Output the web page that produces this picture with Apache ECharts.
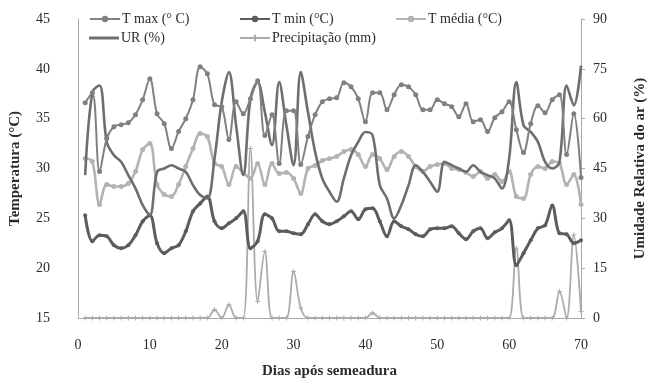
<!DOCTYPE html>
<html>
<head>
<meta charset="utf-8">
<script src="https://cdn.jsdelivr.net/npm/echarts@6/dist/echarts.min.js"></script>
<style>
  html, body { margin: 0; padding: 0; background: #fff; }
  #chart { width: 656px; height: 385px; }
</style>
</head>
<body>
<div id="chart"></div>
<script>
// Days after sowing (1..70)
const days = Array.from({ length: 70 }, (_, i) => i + 1);

const tMax = [
  36.6, 37.6, 29.7, 33.0, 34.2, 34.4, 34.6, 35.4, 36.9, 39.0,
  35.5, 34.5, 32.0, 33.7, 35.0, 36.9, 40.2, 39.5, 36.4, 36.2,
  32.9, 36.7, 35.5, 37.0, 38.8, 33.3, 35.4, 30.5, 35.8, 35.8,
  30.4, 33.2, 35.4, 36.7, 37.0, 37.1, 38.6, 38.2, 37.0, 34.7,
  37.6, 37.6, 35.9, 37.4, 38.4, 38.2, 37.4, 35.9, 35.9, 36.9,
  36.5, 36.2, 35.2, 36.5, 34.7, 34.9, 33.7, 35.1, 35.7, 36.7,
  33.9, 31.6, 34.5, 36.3, 35.6, 36.9, 37.4, 31.4, 35.5, 29.1
];

const tMin = [
  25.3, 22.7, 23.3, 23.2, 22.3, 22.0, 22.3, 23.3, 24.7, 25.3,
  22.5, 21.5, 22.0, 22.3, 23.7, 25.7, 26.5, 27.2, 24.7, 24.0,
  24.5, 25.0, 25.7, 22.0, 22.7, 25.4, 25.0, 23.7, 23.7, 23.5,
  23.4, 24.4, 25.4, 24.7, 24.4, 24.7, 25.2, 25.7, 24.9, 25.9,
  26.0, 24.7, 23.2, 24.7, 24.2, 23.9, 23.4, 23.2, 23.9, 24.0,
  24.0, 24.2, 23.5, 22.9, 23.7, 24.0, 23.0, 23.6, 24.0, 24.8,
  20.3, 21.5, 22.8, 24.0, 24.3, 26.3, 23.5, 23.4, 22.5, 22.8
];

const tMedia = [
  31.0, 30.7, 26.4, 28.4, 28.2, 28.2, 28.5, 29.7, 31.9, 32.5,
  28.4, 27.4, 27.2, 28.4, 30.2, 32.0, 33.5, 33.2, 30.5, 30.2,
  28.4, 30.2, 29.6, 29.0, 30.5, 28.4, 30.5, 29.5, 29.6, 29.0,
  27.5, 30.0, 30.3, 30.8, 31.0, 31.2, 31.7, 31.9, 31.4, 30.2,
  31.4, 31.0, 29.9, 31.2, 31.7, 31.2, 30.2, 29.7, 30.2, 30.4,
  30.5, 30.0, 29.9, 29.6, 29.2, 29.7, 29.0, 29.4, 28.7, 29.7,
  27.2, 27.0, 29.4, 30.2, 30.0, 30.7, 30.5, 28.4, 29.4, 26.4
];

const urPct = [
  43, 68, 70, 53, 49, 47, 43, 39, 34, 31,
  44, 45, 46, 45, 44, 40, 37, 36, 48, 65,
  74, 58, 43, 66, 71, 62, 52, 71, 58, 46,
  74, 62, 50, 42, 38, 35, 42, 49, 53, 56,
  55, 40, 36, 30, 34, 40, 46, 44, 41, 38,
  47, 46, 45, 44, 46, 44, 43, 42, 39, 48,
  71, 58, 56, 53, 47, 45, 47, 70, 64, 76
];

const precipMm = [
  0, 0, 0, 0, 0, 0, 0, 0, 0, 0,
  0, 0, 0, 0, 0, 0, 0, 0, 2.5, 0,
  4, 0, 0, 51, 5, 20, 0, 0, 0, 14,
  3, 0, 0, 0, 0, 0, 0, 0, 0, 0,
  1.5, 0, 0, 0, 0, 0, 0, 0, 0, 0,
  0, 0, 0, 0, 0, 0, 0, 0, 0, 0,
  21, 0, 0, 0, 0, 0, 8, 0, 25, 2
];

const xTicks = [0, 10, 20, 30, 40, 50, 60, 70];
const leftTicks = [15, 20, 25, 30, 35, 40, 45];
const rightTicks = [0, 15, 30, 45, 60, 75, 90];

const pair = (vals) => days.map((d, i) => [d, vals[i]]);

const serif = 'Liberation Serif, Times New Roman, serif';
const textColor = '#2b2b2b';

const chart = echarts.init(document.getElementById('chart'), null, { renderer: 'canvas' });

const lineSeries = (name, vals, color, width, symbol, symbolSize, yAxisIndex, z, border) => ({
  name,
  type: 'line',
  yAxisIndex,
  data: pair(vals),
  smooth: 0.35,
  symbol,
  symbolSize,
  showSymbol: symbol !== 'none',
  lineStyle: { color, width },
  itemStyle: { color, borderColor: color, borderWidth: border || 0 },
  z,
  animation: false
});

const plusPath = 'path://M5,0L5,10M0,5L10,5';

const legendItem = (name, left, top, icon, h) => ({
  left, top, itemWidth: 30, itemHeight: h || 8, itemGap: 0,
  textStyle: { fontFamily: serif, fontSize: 14, color: textColor, padding: [0, 0, 0, -3] },
  data: [icon ? { name, icon } : name]
});

chart.setOption({
  animation: false,
  backgroundColor: '#ffffff',
  grid: { left: 77, right: 68, top: 19, bottom: 67 },
  legend: [
    legendItem('T max (° C)', 84, 7),
    legendItem('T min (°C)', 234, 7),
    legendItem('T média (°C)', 390, 7),
    legendItem('UR (%)', 84, 26, 'rect', 3),
    legendItem('Precipitação (mm)', 234, 26)
  ],
  xAxis: {
    type: 'value', min: 0, max: 70, interval: 10,
    name: 'Dias após semeadura', nameLocation: 'middle', nameGap: 46,
    nameTextStyle: { fontFamily: serif, fontSize: 15, fontWeight: 'bold', color: textColor },
    axisLine: { show: true, lineStyle: { color: '#a8a8a8', width: 1 } },
    axisTick: { show: false },
    splitLine: { show: false },
    axisLabel: {
      margin: 20, fontFamily: serif, fontSize: 14, color: textColor,
      formatter: (v) => (xTicks.includes(v) ? String(v) : '')
    }
  },
  yAxis: [
    {
      type: 'value', min: 15, max: 45, interval: 5, position: 'left',
      name: 'Temperatura (°C)', nameLocation: 'middle', nameGap: 55, nameRotate: 90,
      nameTextStyle: { fontFamily: serif, fontSize: 15, fontWeight: 'bold', color: textColor },
      axisLine: { show: true, lineStyle: { color: '#a8a8a8', width: 1 } },
      axisTick: { show: false },
      splitLine: { show: false },
      axisLabel: {
        margin: 28, fontFamily: serif, fontSize: 14, color: textColor,
        formatter: (v) => (leftTicks.includes(v) ? String(v) : '')
      }
    },
    {
      type: 'value', min: 0, max: 90, interval: 15, position: 'right',
      name: 'Umidade Relativa do ar (%)', nameLocation: 'middle', nameGap: 52, nameRotate: 90,
      nameTextStyle: { fontFamily: serif, fontSize: 15, fontWeight: 'bold', color: textColor },
      axisLine: { show: true, lineStyle: { color: '#a8a8a8', width: 1 } },
      axisTick: { show: true, inside: false, length: 4, lineStyle: { color: '#a8a8a8' } },
      splitLine: { show: false },
      axisLabel: {
        margin: 12, fontFamily: serif, fontSize: 14, color: textColor,
        formatter: (v) => (rightTicks.includes(v) ? String(v) : '')
      }
    }
  ],
  series: [
    lineSeries('Precipitação (mm)', precipMm, '#ababab', 1.8, plusPath, 5, 1, 2, 1),
    lineSeries('T média (°C)', tMedia, '#b3b3b3', 2.6, 'circle', 5, 0, 3),
    lineSeries('T min (°C)', tMin, '#5c5c5c', 3.0, 'circle', 4, 0, 4),
    lineSeries('UR (%)', urPct, '#6e6e6e', 2.6, 'none', 0, 1, 5),
    lineSeries('T max (° C)', tMax, '#808080', 2.0, 'circle', 5, 0, 6)
  ]
});
</script>
</body>
</html>
